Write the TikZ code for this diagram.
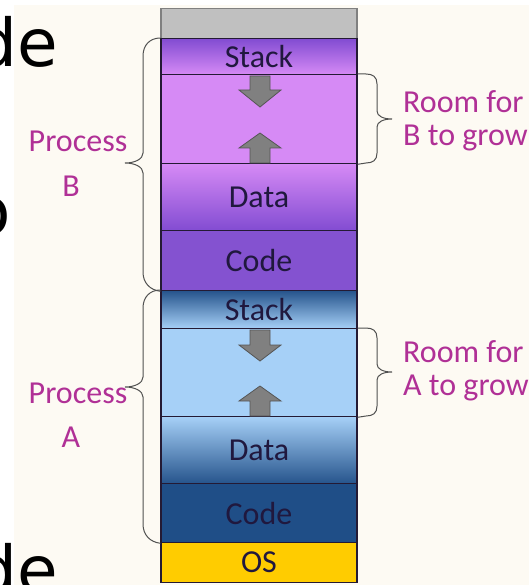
\documentclass[tikz,border=0pt]{standalone}
\usepackage{fontspec}
\setmainfont{Carlito}
\newfontfamily\slidefont{DejaVu Sans}
\definecolor{paper}{RGB}{253,250,243}
\definecolor{edge}{RGB}{36,26,52}
\definecolor{labeltext}{RGB}{32,24,62}
\definecolor{notetext}{RGB}{176,48,150}
\definecolor{bracegrey}{RGB}{80,80,80}
\definecolor{arrowfill}{RGB}{128,128,128}
\definecolor{arrowedge}{RGB}{85,85,85}
\definecolor{freegrey}{RGB}{192,192,192}
\definecolor{purpleDark}{RGB}{130,76,210}
\definecolor{purpleLight}{RGB}{214,138,245}
\definecolor{purpleCode}{RGB}{132,82,208}
\definecolor{blueDark}{RGB}{38,84,140}
\definecolor{blueLight}{RGB}{166,208,247}
\definecolor{blueCode}{RGB}{31,78,135}
\definecolor{osgold}{RGB}{255,204,0}
\begin{document}
\begin{tikzpicture}[x=1pt,y=-1pt,
  block/.style={draw=edge, line width=1.3pt, minimum width=196pt, inner sep=0pt,
    anchor=north, text=labeltext, font=\fontsize{32}{32}\selectfont},
  growarrow/.style={fill=arrowfill, draw=arrowedge, line width=0.8pt, line join=miter},
  brace/.style={draw=bracegrey, line width=1pt},
  note/.style={text=notetext, font=\fontsize{32}{33}\selectfont, inner sep=0pt},
  slide/.style={font=\slidefont\fontsize{66}{66}\selectfont, inner sep=0pt, text=black}]
\useasboundingbox (0,0) rectangle (529,585);
\fill[paper] (14,5) rectangle (529,585);

% memory column, top to bottom
\node[block, draw=gray, fill=freegrey, minimum height=30pt] (free) at (259,8) {};
\node[block, top color=purpleDark, bottom color=purpleLight, minimum height=36pt] (stackB) at (259,38) {Stack};
\node[block, fill=purpleLight, minimum height=89pt] (roomB) at (259,74) {};
\node[block, top color=purpleLight, bottom color=purpleDark, minimum height=67pt] (dataB) at (259,163) {Data};
\node[block, fill=purpleCode, minimum height=60pt] (codeB) at (259,230) {Code};
\node[block, top color=blueDark, bottom color=blueLight, minimum height=38pt] (stackA) at (259,290) {Stack};
\node[block, fill=blueLight, minimum height=88pt] (roomA) at (259,328) {};
\node[block, top color=blueLight, bottom color=blueDark, minimum height=67pt] (dataA) at (259,416) {Data};
\node[block, fill=blueCode, minimum height=59pt] (codeA) at (259,483) {Code};
\node[block, fill=osgold, minimum height=40pt] (os) at (259,542) {OS};

% stack grows down, heap grows up
\draw[growarrow] (250,76) -- (270,76) -- (270,90) -- (281,90) -- (260,107) -- (239,90) -- (250,90) -- cycle;
\draw[growarrow] (260,133) -- (281,148) -- (270,148) -- (270,163) -- (250,163) -- (250,148) -- (239,148) -- cycle;
\draw[growarrow] (250,330) -- (270,330) -- (270,345) -- (281,345) -- (260,361) -- (239,345) -- (250,345) -- cycle;
\draw[growarrow] (260,386) -- (281,401) -- (270,401) -- (270,416) -- (250,416) -- (250,401) -- (239,401) -- cycle;

% braces for each process
\draw[brace] (stackB.north west) .. controls (150,38) and (143,45) .. (143,56) -- (143,153)
  .. controls (143,159) and (135,163) .. (125,163) .. controls (135,163) and (143,167) .. (143,173)
  -- (143,272) .. controls (143,283) and (150,290) .. (codeB.south west);
\draw[brace] (stackA.north west) .. controls (150,290) and (143,297) .. (143,308) -- (143,377)
  .. controls (143,383) and (135,387) .. (125,387) .. controls (135,387) and (143,391) .. (143,397)
  -- (143,524) .. controls (143,535) and (150,542) .. (codeA.south west);

% braces for the free room
\draw[brace] (roomB.north east) -- (366,74) .. controls (373,74) and (377,77) .. (377,84) -- (377,111)
  .. controls (377,116) and (383,119) .. (392,119) .. controls (383,119) and (377,122) .. (377,127)
  -- (377,153) .. controls (377,160) and (373,163) .. (366,163) -- (roomB.south east);
\draw[brace] (roomA.north east) -- (366,328) .. controls (373,328) and (377,331) .. (377,338) -- (377,364)
  .. controls (377,369) and (383,372) .. (392,372) .. controls (383,372) and (377,375) .. (377,380)
  -- (377,406) .. controls (377,413) and (373,416) .. (366,416) -- (roomA.south east);

% labels
\node[note] (procB) at (78,141) {Process};
\node[note] (procBname) at (71,186) {B};
\node[note] (procA) at (78,393) {Process};
\node[note] (procAname) at (71,437) {A};
\node[note, anchor=west, align=left] (growB) at (403,121) {Room for\\B to grow};
\node[note, anchor=west, align=left] (growA) at (403,371) {Room for\\A to grow};

% fragments of the slide text behind
\node[slide, anchor=base east] (slide1) at (58,67) {de};
\node[slide, anchor=base east] (slide2) at (11,234) {o};
\node[slide, anchor=base east] (slide3) at (58,593) {de};
\end{tikzpicture}
\end{document}
